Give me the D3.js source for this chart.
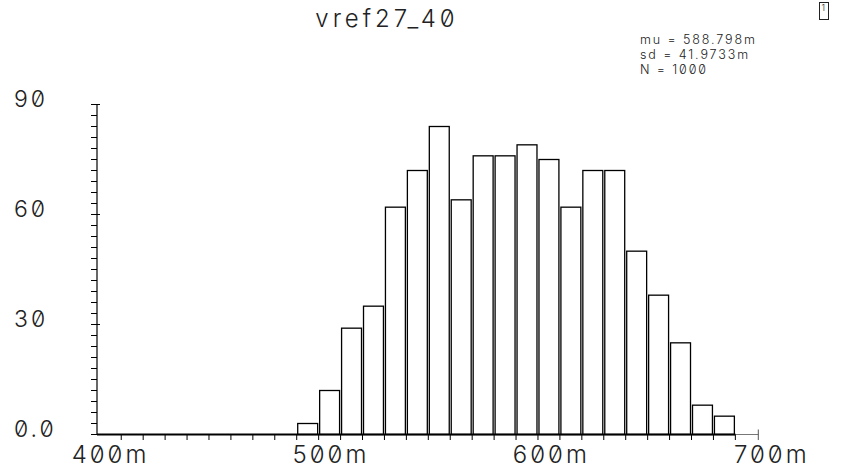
<!DOCTYPE html>
<html>
<head>
<meta charset="utf-8">
<script src="https://cdn.jsdelivr.net/npm/d3@7"></script>
<style>
  html, body { margin: 0; padding: 0; background: #fff; }
  svg text {
    font-family: Inter, "DejaVu Sans", sans-serif;
    font-weight: 300;
    font-variant-numeric: slashed-zero;
    font-feature-settings: "zero" on;
    fill: #222;
  }
</style>
</head>
<body>
<svg id="chart" width="846" height="470"></svg>
<script>
// Histogram of vref27_40 (1000 samples, 20 bins)
const title = "vref27_40";
const statLines = ["mu = 588.798m", "sd = 41.9733m", "N = 1000"];

const binStart = 0.4906;      // V, left edge of the first bin
const binWidth = 0.00995;     // V
const counts = [3, 12, 29, 35, 62, 72, 84, 64, 76, 76, 79, 75, 62, 72, 72, 50, 38, 25, 8, 5];

const xDomain = [0.4, 0.7];
const xTickValues = [0.4, 0.5, 0.6, 0.7];
const xTickNumbers = ["400", "500", "600", "700"];
const xTickUnit = "m";

const yDomain = [0, 90];
const yTickValues = [0, 30, 60, 90];
const yTickLabels = ["0.0", "30", "60", "90"];
const yMinorStep = 3;

const svg = d3.select("#chart");

const x = d3.scaleLinear().domain(xDomain).range([97, 758.3]);
const y = d3.scaleLinear().domain(yDomain).range([434.5, 104.5]);

// Bars
const binEdge = i => binStart + i * binWidth;
svg.append("g")
  .selectAll("rect")
  .data(counts)
  .join("rect")
  .attr("x", (d, i) => x(binEdge(i)) + 1)
  .attr("width", (d, i) => x(binEdge(i + 1)) - x(binEdge(i)) - 2)
  .attr("y", d => y(d))
  .attr("height", d => y(0) - y(d))
  .attr("fill", "#fff")
  .attr("stroke", "#000")
  .attr("stroke-width", 1.3);

// X axis: grey full line, heavy baseline under the bins
const axisG = svg.append("g");
axisG.append("line")
  .attr("x1", x(xDomain[0])).attr("x2", x(xDomain[1]))
  .attr("y1", y(0)).attr("y2", y(0))
  .attr("stroke", "#777").attr("stroke-width", 1.2);
axisG.append("line")
  .attr("x1", x(xDomain[0])).attr("x2", x(binEdge(counts.length)))
  .attr("y1", y(0)).attr("y2", y(0))
  .attr("stroke", "#000").attr("stroke-width", 2.2);

// X ticks sit on the bin edges, continued leftwards along the axis
const xEdgeTicks = d3.range(-8, counts.length + 1).map(binEdge);
axisG.selectAll("line.xt")
  .data(xEdgeTicks)
  .join("line")
  .attr("class", "xt")
  .attr("x1", d => x(d)).attr("x2", d => x(d))
  .attr("y1", y(0)).attr("y2", y(0) + 5.5)
  .attr("stroke", "#000").attr("stroke-width", 1);
axisG.append("line")
  .attr("x1", x(xDomain[1])).attr("x2", x(xDomain[1]))
  .attr("y1", y(0) - 5).attr("y2", y(0) + 5.5)
  .attr("stroke", "#555").attr("stroke-width", 1);

// X labels: the number is centred on its value, the unit trails it
xTickValues.forEach((v, i) => {
  const t = svg.append("text")
    .attr("y", 463)
    .attr("font-size", 24)
    .attr("letter-spacing", 3);
  const num = t.append("tspan").text(xTickNumbers[i]);
  t.append("tspan").text(xTickUnit);
  const w = num.node().getComputedTextLength() - 3;
  t.attr("x", x(v) - w / 2);
});

// Y axis
const yG = svg.append("g");
yG.append("line")
  .attr("x1", x(xDomain[0])).attr("x2", x(xDomain[0]))
  .attr("y1", y(yDomain[1])).attr("y2", y(0))
  .attr("stroke", "#000").attr("stroke-width", 1.2);
const yMinor = d3.range(yDomain[0], yDomain[1] + 0.001, yMinorStep);
yG.selectAll("line.ym")
  .data(yMinor)
  .join("line")
  .attr("class", "ym")
  .attr("x1", x(xDomain[0]) - 6).attr("x2", x(xDomain[0]))
  .attr("y1", d => y(d)).attr("y2", d => y(d))
  .attr("stroke", "#000").attr("stroke-width", 1);
yG.selectAll("line.yM")
  .data(yTickValues)
  .join("line")
  .attr("class", "yM")
  .attr("x1", x(xDomain[0]) - 6).attr("x2", x(xDomain[0]) + 3)
  .attr("y1", d => y(d)).attr("y2", d => y(d))
  .attr("stroke", "#000").attr("stroke-width", 1);
yG.selectAll("text")
  .data(yTickValues)
  .join("text")
  .attr("x", 14)
  .attr("y", d => y(d) + 2.5)
  .attr("font-size", 23)
  .attr("letter-spacing", 3)
  .text((d, i) => yTickLabels[i]);

// Title and summary statistics
svg.append("text")
  .attr("x", 387).attr("y", 27)
  .attr("text-anchor", "middle")
  .attr("font-size", 24)
  .attr("letter-spacing", 4)
  .text(title);

svg.append("g")
  .selectAll("text")
  .data(statLines)
  .join("text")
  .attr("x", 640)
  .attr("y", (d, i) => 44 + i * 15)
  .attr("font-size", 12.5)
  .attr("letter-spacing", 1.9)
  .text(d => d);

// Corner marker
svg.append("rect")
  .attr("x", 819.5).attr("y", 2.5)
  .attr("width", 9).attr("height", 17)
  .attr("fill", "none").attr("stroke", "#222").attr("stroke-width", 1);
svg.append("text")
  .attr("x", 821.5).attr("y", 10.5)
  .attr("font-size", 9)
  .text("1");
</script>
</body>
</html>
